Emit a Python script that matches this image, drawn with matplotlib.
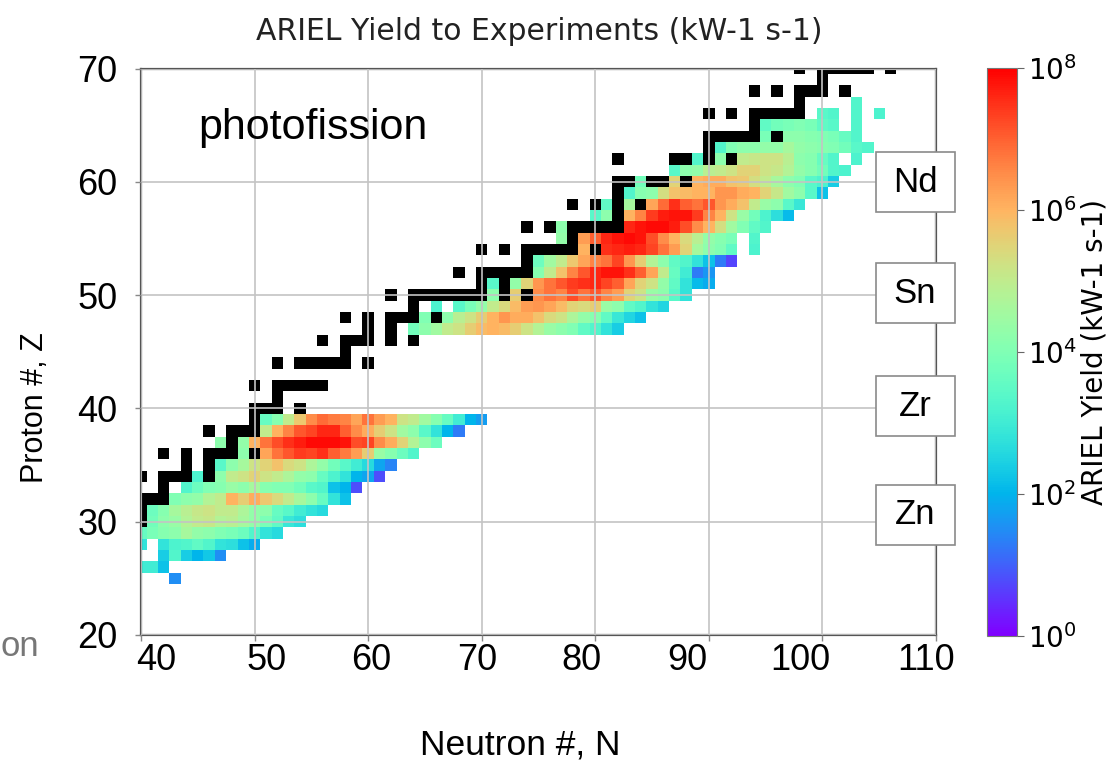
import numpy as np
import matplotlib
matplotlib.use("Agg")
import matplotlib.pyplot as plt
from matplotlib.colors import LogNorm, ListedColormap
from matplotlib.patches import Rectangle
import matplotlib.transforms as mtransforms

# ---------------- data (log10 of yield, kW-1 s-1) ----------------
# each row: proton number Z, first neutron number N0, yields for N0, N0+1, ...
row_Z = [25, 26, 27, 28, 29, 30, 31, 32, 33, 34, 35, 36, 37, 38, 39,
         47, 48, 49, 50, 51, 52, 53, 54, 55, 56, 57, 58, 59, 60, 61, 62, 63, 64, 65, 66, 67]
row_N0 = [43, 40, 42, 40, 40, 41, 41, 43, 44, 45, 47, 49, 47, 51, 51,
          64, 65, 66, 71, 71, 75, 75, 79, 77, 77, 80, 81, 83, 84, 87, 89, 91, 95, 95, 99, 103]
row_logY = [
    [1.5],
    [3.0, 3.0, 2.2],
    [2.4, 3.3, 2.4, 2.0, 2.3, 1.5],
    [2.8, None, 2.8, 3.2, 3.3, 3.5, 3.3, 2.8, 2.7, 2.2, 1.9],
    [3.6, 3.9, 4.1, 4.2, 4.6, 4.3, 4.2, 4.0, 3.9, 3.7, 3.3, 2.8, 2.6],
    [3.8, 4.2, 4.4, 4.8, 5.0, 5.1, 4.8, 4.9, 4.6, 4.3, 3.9, 3.5, 2.9, 2.7],
    [3.7, 4.1, 4.6, 4.9, 5.1, 5.2, 5.0, 5.0, 4.7, 4.3, 4.2, 3.6, 3.4, 3.0, 2.8, 2.6],
    [4.0, 4.2, 4.3, 4.8, 5.0, 6.0, 5.6, 6.1, 5.7, 5.4, 5.0, 4.6, 4.2, 3.6, 2.8, 2.2],
    [3.3, 3.7, 4.0, 4.1, 4.4, 4.2, 4.6, 4.1, 4.0, 4.0, 3.8, 3.4, 3.3, 2.2, 2.0, 0.8],
    [3.2, None, 4.2, 5.0, 5.2, 5.5, 5.2, 5.0, 4.7, 4.3, 4.2, 3.6, 3.2, 2.8, 2.0, 1.8, 0.8],
    [3.4, 4.2, 4.6, 5.2, 5.5, 5.8, 5.4, 5.2, 4.7, 4.3, 3.8, 3.4, 3.0, 2.6, 1.8, 1.4],
    [4.2, None, 6.2, 6.8, 7.1, 7.4, 7.3, 7.5, 7.0, 6.7, 6.3, 5.6, 4.4, 4.1, 3.7, 3.3],
    [4.2, None, 4.3, 6.0, 6.8, 7.2, 7.5, 7.7, 7.9, 7.9, 7.9, 7.8, 7.2, 7.3, 6.5, 6.1, 5.5, 4.8, 4.2, 3.7],
    [5.0, 6.0, 6.6, 7.1, 7.3, 7.6, 7.6, 7.0, 6.5, 6.1, 5.6, 5.2, 4.5, 4.2, 3.4, 2.8, 2.0, 1.3],
    [3.6, 4.1, 5.0, 5.7, 6.5, 6.9, 6.7, 6.6, 6.2, 6.8, 6.3, 6.0, 5.2, 5.0, 4.5, 4.1, 3.6, 3.0, 2.0, 1.7],
    [3.8, 4.2, 4.5, 5.0, 5.2, 5.6, 5.9, 6.0, 5.9, 5.6, 5.2, 4.8, 4.4, 4.2, 4.0, 3.5, 3.3, 2.8, 2.4],
    [4.0, None, 4.2, 4.9, 5.2, 5.6, 6.0, 6.4, 6.1, 6.1, 5.8, 5.4, 5.2, 4.7, 4.3, 4.1, 3.5, 2.9, 2.5, 2.2],
    [3.2, None, 3.4, 3.9, 4.3, 5.0, 5.4, 5.9, 6.3, 6.4, 6.2, 5.9, 5.5, 5.4, 5.6, 4.4, 4.2, 3.5, 3.3, 2.8, 2.5],
    [4.2, None, 5.6, None, 6.5, 6.8, 6.6, 7.2, 6.8, 7.1, 6.6, 6.3, 5.5, 5.2, 4.4, 4.2, 3.4, 2.8],
    [3.4, None, 4.3, 5.5, 6.4, 6.8, 7.1, 7.4, 7.5, 7.6, 7.3, 7.0, 6.2, 5.5, 5.2, 4.3, 3.5, 2.8, 2.1, 1.9],
    [4.1, 5.0, 5.8, 6.6, 7.1, 7.6, 7.8, 7.8, 7.5, 7.0, 6.2, 5.0, 3.6, 3.0, 1.3, 1.6],
    [3.7, 4.5, 5.0, 5.7, 6.2, 6.6, 6.8, 7.3, 6.4, 5.6, 4.8, 4.2, 3.5, 3.3, 2.8, 2.2, 1.3, 0.7],
    [6.0, None, 7.5, 7.6, 7.7, 7.6, 7.3, 6.8, 6.3, 5.5, 4.6, 4.2, 4.0, 3.5, None, 3.2],
    [4.3, None, 6.3, 7.0, 7.6, 7.8, 7.9, 7.8, 7.2, 6.5, 6.0, 5.4, 4.9, 4.3, 4.1, 3.9, None, 3.3],
    [4.2, None, None, None, None, None, 7.6, 7.8, 7.9, 7.9, 7.7, 7.2, 6.5, 6.0, 5.3, 4.5, 4.0, 3.5, 3.3],
    [3.4, 4.2, None, 6.0, 6.6, 7.4, 7.7, 7.8, 7.8, 7.4, 6.6, 6.0, 5.2, 4.4, 3.8, 3.2, 2.7, 2.1],
    [3.5, None, 4.6, None, 6.2, 6.9, 7.5, 7.0, 6.8, 7.1, 6.4, 6.1, 5.8, 5.0, 4.4, 4.2, 3.4, 2.9],
    [3.3, 4.1, 4.2, 5.3, 5.8, 5.9, 6.0, 6.0, 6.4, 6.4, 6.1, 6.0, 5.5, 5.1, 4.5, 4.2, 3.4, 2.2],
    [3.8, None, None, 5.5, None, 6.0, 6.1, 6.1, 5.8, 5.7, 5.3, 5.0, 4.6, 4.2, 4.0, 3.4, 3.2, 2.4],
    [3.4, 4.2, 4.3, 4.9, 5.0, 5.2, 5.5, 5.5, 5.2, 5.1, 4.8, 4.3, 4.1, 3.8, 3.3, 3.2],
    [3.3, None, 4.2, None, 5.0, 5.1, 5.2, 5.2, 4.9, 4.2, 4.1, 3.6, 3.3, None, 3.2],
    [3.3, 4.0, 4.2, 4.2, 4.3, 4.3, 4.6, 4.3, 4.2, 4.1, 4.0, 3.8, 3.4, 3.3],
    [3.9, None, 4.2, 4.2, 4.1, 4.0, 3.9, 3.6, 3.3],
    [3.5, 3.8, 3.9, 4.0, 3.9, 3.5, 3.4, None, 3.3],
    [None, 3.4, 3.3, None, 3.3, None, 3.2],
    [3.3],
]

# stable nuclides (drawn black): proton number and its stable neutron numbers
stable_Z = [30, 31, 32, 33, 34, 35, 36, 37, 38, 39, 40, 41, 42, 44, 45, 46, 47, 48, 49, 50,
            51, 52, 53, 54, 55, 56, 57, 58, 59, 60, 62, 63, 64, 65, 66, 67, 68, 69, 70]
stable_N = [[40], [40], [40, 41, 42], [42], [40, 42, 43, 44, 46], [44, 46],
            [42, 44, 46, 47, 48, 50], [48], [46, 48, 49, 50], [50], [50, 51, 52, 54], [52],
            [50, 52, 53, 54, 55, 56], [52, 54, 55, 56, 57, 58, 60], [58],
            [56, 58, 59, 60, 62, 64], [60, 62], [58, 60, 62, 63, 64, 66], [64],
            [62, 64, 65, 66, 67, 68, 69, 70, 72, 74], [70, 72], [68, 70, 71, 72, 73, 74], [74],
            [70, 72, 74, 75, 76, 77, 78, 80], [78], [74, 76, 78, 79, 80, 81, 82], [82],
            [78, 80, 82, 84], [82], [82, 83, 85, 86, 88], [82, 87, 88, 90, 92], [90],
            [90, 91, 92, 93, 94, 96], [94], [90, 92, 94, 95, 96, 97, 98], [98],
            [94, 96, 98, 99, 100, 102], [100], [98, 100, 101, 102, 103, 104, 106]]

x_ticks = [40, 50, 60, 70, 80, 90, 100, 110]
y_ticks = [20, 30, 40, 50, 60, 70]
cbar_ticks = [1e0, 1e2, 1e4, 1e6, 1e8]
element_labels = ["Nd", "Sn", "Zr", "Zn"]

# ---------------- build grids ----------------
N_MIN, N_MAX, Z_MIN, Z_MAX = 40, 110, 20, 70
nN = N_MAX - N_MIN + 1
nZ = Z_MAX - Z_MIN + 1
yld = np.full((nZ, nN), np.nan)
for z, n0, vals in zip(row_Z, row_N0, row_logY):
    for i, v in enumerate(vals):
        if v is not None:
            yld[z - Z_MIN, n0 + i - N_MIN] = 10.0 ** v
stab = np.full((nZ, nN), np.nan)
for z, ns in zip(stable_Z, stable_N):
    for n in ns:
        stab[z - Z_MIN, n - N_MIN] = 1.0

N_edges = np.arange(N_MIN - 0.5, N_MAX + 1.0)
Z_edges = np.arange(Z_MIN - 0.5, Z_MAX + 1.0)

# ---------------- figure ----------------
W, H = 1110, 762
fig = plt.figure(figsize=(W / 100, H / 100), dpi=100)
fig.patch.set_facecolor("white")

def fx(px):
    return px / W

def fy(py):
    return 1 - py / H

AX_L, AX_R, AX_T, AX_B = 141, 936, 68.5, 635
ax = fig.add_axes([fx(AX_L), fy(AX_B), fx(AX_R) - fx(AX_L), fy(AX_T) - fy(AX_B)])
mesh = ax.pcolormesh(N_edges, Z_edges, np.ma.masked_invalid(yld), cmap="rainbow",
                     norm=LogNorm(vmin=1, vmax=1e8), zorder=1)
ax.pcolormesh(N_edges, Z_edges, np.ma.masked_invalid(stab),
              cmap=ListedColormap(["black"]), vmin=0, vmax=2, zorder=1.5)
ax.set_xlim(40, 110)
ax.set_ylim(20, 70)
ax.set_axisbelow(False)
ax.grid(True, color="#c4c4c4", linewidth=1.2)
ax.set_xticks(x_ticks)
ax.set_yticks(y_ticks)
ax.set_xticklabels([str(t) for t in x_ticks], fontsize=26, family="Liberation Sans")
ax.set_yticklabels([str(t) for t in y_ticks], fontsize=26, family="Liberation Sans")
ax.tick_params(axis="both", length=4, width=1, color="#888888")
ax.tick_params(axis="x", pad=1.5)
ax.tick_params(axis="y", pad=13)
for s in ax.spines.values():
    s.set_color("#555555")
    s.set_linewidth(1.6)

# shift x tick labels to their places in the reference
x_label_dx = [15, 12, 3, -5, -14, -22, -22, -10]
for lab, dx in zip(ax.get_xticklabels(), x_label_dx):
    lab.set_transform(lab.get_transform() +
                      mtransforms.ScaledTranslation(dx / 100, 0, fig.dpi_scale_trans))

ax.set_xlabel("Neutron #, N", fontsize=25.5, family="Liberation Sans")
ax.xaxis.set_label_coords((520 - AX_L) / (AX_R - AX_L), (AX_B - 745) / (AX_B - AX_T))
ax.xaxis.label.set_verticalalignment("center")
ax.set_ylabel("Proton #, Z", fontsize=22, family="Liberation Sans")
ax.yaxis.set_label_coords((35 - AX_L) / (AX_R - AX_L), (AX_B - 408) / (AX_B - AX_T))
ax.yaxis.label.set_verticalalignment("center")

fig.text(fx(313), fy(128), "photofission", fontsize=31,
         family="Liberation Sans", ha="center", va="center")

# title
fig.text(fx(539), fy(31), "ARIEL Yield to Experiments (kW-1 s-1)", fontsize=21.5,
         ha="center", va="center", family="DejaVu Sans", color="#222222")

# element boxes
box_centers = [182, 293, 406, 515]
for lab, cy in zip(element_labels, box_centers):
    fig.patches.append(Rectangle((fx(876), fy(cy + 30)), fx(79), 60 / H,
                                 transform=fig.transFigure, facecolor="white",
                                 edgecolor="#8a8a8a", linewidth=1.2, zorder=5))
    fig.text(fx(915), fy(cy), lab, fontsize=25, family="Liberation Sans",
             ha="center", va="center", zorder=6)

# colorbar
cax = fig.add_axes([fx(987), fy(636), fx(30), (636 - 68) / H])
cb = fig.colorbar(mesh, cax=cax)
cb.set_ticks(cbar_ticks)
cb.ax.minorticks_off()
cb.ax.tick_params(labelsize=20, length=5, color="#666666", pad=3)
cb.outline.set_edgecolor("#777777")
cb.set_label("ARIEL Yield (kW-1 s-1)", fontsize=20, labelpad=0)
cb.ax.yaxis.set_label_coords((1095 - 987) / 30, 0.5)
cb.ax.yaxis.label.set_verticalalignment("center")

# leftover slide text at the left edge
fig.text(fx(1), fy(646), "on", fontsize=25, family="Liberation Sans", color="#777777",
         ha="left", va="center")

fig.savefig("out.png", dpi=100)
